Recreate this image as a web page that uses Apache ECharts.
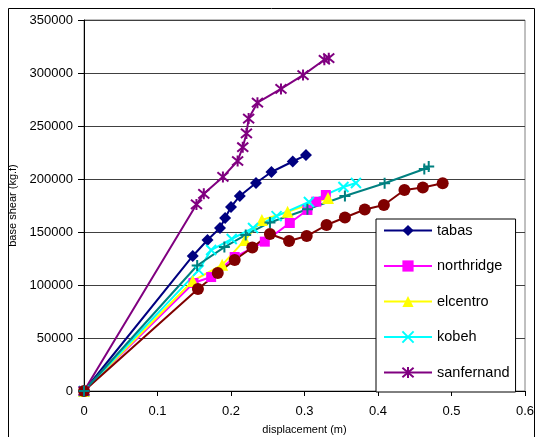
<!DOCTYPE html>
<html><head><meta charset="utf-8">
<script src="https://cdn.jsdelivr.net/npm/echarts@6/dist/echarts.min.js"></script>
<style>html,body{margin:0;padding:0;background:#fff}#c{width:535px;height:437px}</style>
</head><body><div id="c"></div>
<script>
// Data: [displacement (m), base shear (kg.f)]
const tabas = [[0,0],[0.148,127400],[0.168,142500],[0.185,153800],[0.192,163200],[0.200,173600],[0.212,184000],[0.234,196200],[0.255,206600],[0.284,216500],[0.302,222600]];
const northridge = [[0,0],[0.149,101900],[0.173,107500],[0.205,126400],[0.246,140900],[0.280,158500],[0.304,170800],[0.316,178600],[0.329,184900]];
const elcentro = [[0,0],[0.148,103800],[0.188,119000],[0.219,142500],[0.242,161300],[0.277,169000],[0.332,182000]];
const kobeh = [[0,0],[0.156,114000],[0.173,133000],[0.201,143400],[0.230,153800],[0.262,165000],[0.306,178300],[0.353,192500],[0.370,196200]];
const sanfernando = [[0,0],[0.153,176000],[0.163,186000],[0.189,202000],[0.209,217000],[0.216,230000],[0.221,243000],[0.224,257000],[0.236,272000],[0.268,285000],[0.298,298000],[0.327,312500],[0.333,314000]];
const series7 = [[0,0],[0.155,96200],[0.182,111300],[0.205,123600],[0.229,135400],[0.253,148100],[0.279,141500],[0.303,146200],[0.330,156600],[0.355,163700],[0.382,171200],[0.408,175500],[0.436,189600],[0.461,192000],[0.488,196000]];
const series6 = [[0,0],[0.154,118400],[0.191,135800],[0.220,147200],[0.253,159000],[0.304,171400],[0.355,184000],[0.409,196000],[0.463,209400],[0.469,211800]];

const legendNames = ['tabas','northridge','elcentro','kobeh','sanfernando'];
const xTicks = [0, 0.1, 0.2, 0.3, 0.4, 0.5, 0.6];
const yTicks = [0, 50000, 100000, 150000, 200000, 250000, 300000, 350000];

const FONT = 'Liberation Sans, Arial, sans-serif';
const XMARK = 'path://M0,0L10,10M10,0L0,10';
const STAR = 'path://M0,0L10,10M10,0L0,10M5,-1L5,11';
const PLUS = 'path://M5,0L5,10M0,5L10,5';

function mk(name, data, color, symbol, size, stroke) {
  return {
    name, type: 'line', data, symbol, symbolSize: size,
    lineStyle: {color, width: 2},
    itemStyle: stroke ? {color: color, borderColor: color, borderWidth: 2} : {color: color, borderWidth: 0},
    emphasis: {disabled: true},
    z: 3
  };
}

const chart = echarts.init(document.getElementById('c'), null, {renderer: 'canvas'});
chart.setOption({
  animation: false,
  backgroundColor: '#fff',
  textStyle: {fontFamily: FONT},
  grid: {left: 84, right: 10, top: 20, bottom: 46, show: true, borderColor: '#808080', borderWidth: 1, containLabel: false, outerBoundsMode: 'none'},
  xAxis: {
    type: 'value', min: xTicks[0], max: xTicks[xTicks.length - 1], interval: 0.1,
    name: 'displacement (m)', nameLocation: 'middle', nameGap: 33,
    nameTextStyle: {fontSize: 11, color: '#000', fontFamily: FONT},
    axisLine: {show: true, lineStyle: {color: '#000', width: 1}},
    axisTick: {show: true, inside: false, length: 5, lineStyle: {color: '#000'}},
    axisLabel: {fontSize: 13, color: '#000', margin: 14, fontFamily: FONT, formatter: v => String(+v.toFixed(1))},
    splitLine: {show: false}
  },
  yAxis: {
    type: 'value', min: yTicks[0], max: yTicks[yTicks.length - 1], interval: 50000,
    name: 'base shear (kg.f)', nameLocation: 'middle', nameGap: 62, nameRotate: 90,
    nameTextStyle: {fontSize: 11, color: '#000', fontFamily: FONT},
    axisLine: {show: true, lineStyle: {color: '#000', width: 1}},
    axisTick: {show: true, inside: false, length: 6, lineStyle: {color: '#000'}},
    axisLabel: {fontSize: 13, color: '#000', margin: 11, fontFamily: FONT, formatter: v => String(v)},
    splitLine: {show: true, lineStyle: {color: '#404040', width: 1}}
  },
  legend: {
    data: legendNames, orient: 'vertical', left: 376, top: 219,
    itemWidth: 48, itemHeight: 14, itemGap: 20.5,
    padding: [4, 6, 12, 7],
    borderColor: '#000', borderWidth: 1, backgroundColor: '#fff',
    textStyle: {fontSize: 14.5, color: '#000', fontFamily: FONT},
    formatter: n => n === 'sanfernando' ? 'sanfernand' : n,
    selectedMode: false
  },
  graphic: [{type: 'rect', shape: {x: 8.5, y: 8.5, width: 526, height: 440}, style: {fill: 'none', stroke: '#000', lineWidth: 1}, silent: true, z: -1}],
  series: [
    mk('tabas', tabas, '#000080', 'diamond', 12, false),
    mk('northridge', northridge, '#FF00FF', 'rect', 10, false),
    mk('elcentro', elcentro, '#FFFF00', 'triangle', 12, false),
    mk('kobeh', kobeh, '#00FFFF', XMARK, 10, true),
    mk('sanfernando', sanfernando, '#800080', STAR, 11, true),
    mk('series7', series7, '#800000', 'circle', 12, false),
    mk('series6', series6, '#008080', PLUS, 11, true)
  ]
});
</script></body></html>
